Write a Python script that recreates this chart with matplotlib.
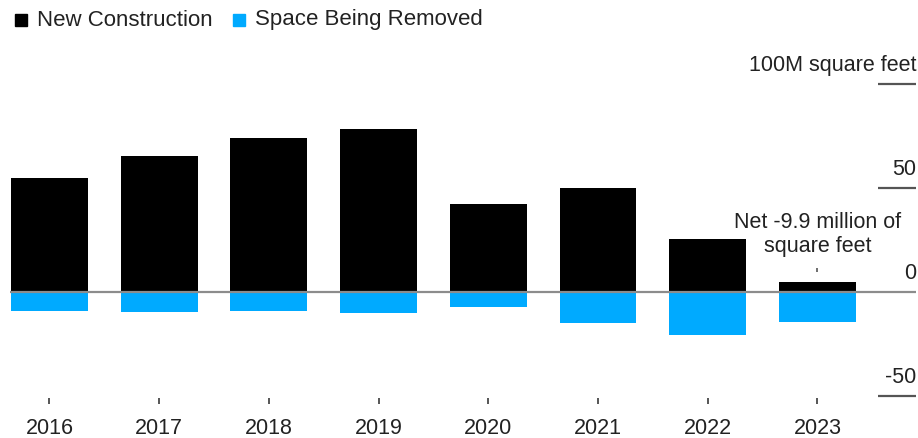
import numpy as np
import matplotlib
matplotlib.use('Agg')
import matplotlib.pyplot as plt
from matplotlib.patches import Rectangle

plt.rcParams['font.family'] = ['Liberation Sans', 'DejaVu Sans']

# office space, millions of square feet
years = ['2016', '2017', '2018', '2019', '2020', '2021', '2022', '2023']
new_construction = [55.0, 65.4, 74.2, 78.2, 42.3, 50.1, 25.3, 4.7]
space_removed = [-9.0, -9.6, -9.0, -9.9, -7.4, -14.7, -20.8, -14.6]
ytick_vals = [100, 50, 0, -50]
ytick_labels = ['100M square feet', '50', '0', '-50']
net_2023 = new_construction[-1] + space_removed[-1]

black = '#000000'
blue = '#00aaff'
txt = '#222222'
grey = '#8c8c8c'
fs = 15.5

fig = plt.figure(figsize=(9.18, 4.38), dpi=100)
ax = fig.add_axes([0, 0, 1, 1])
x = np.arange(len(years))
ax.set_xlim(-0.451, 7.917)
ax.set_ylim(-70.2, 140.4)
ax.axis('off')

ax.bar(x, new_construction, width=0.70, color=black, zorder=2)
ax.bar(x, space_removed, width=0.70, color=blue, zorder=2)

# zero line and right-hand gridline stubs
ax.hlines(0, -0.36, 7.90, color=grey, lw=1.6, zorder=3)
for v, lab in zip(ytick_vals, ytick_labels):
    if v != 0:
        ax.hlines(v, 7.553, 7.899, color='#555555', lw=1.6)
    ax.annotate(lab, (7.899, v), xytext=(0, 6), textcoords='offset points',
                ha='right', va='bottom', fontsize=fs, color=txt)

# year ticks and labels
ax.vlines(x, -51.2, -53.8, color='#555555', lw=1.4)
for xi, yr in zip(x, years):
    ax.text(xi, -65.4, yr, ha='center', va='center', fontsize=fs, color=txt)

# net annotation for last year
ax.text(x[-1], 27.5, 'Net %.1f million of\nsquare feet' % net_2023, ha='center',
        va='center', fontsize=fs, color=txt, linespacing=1.2)
ax.vlines(x[-1], 9.4, 11.4, color='#555555', lw=1.2)

# legend
W, H = 918, 438
for px, col, lab in [(15, black, 'New Construction'), (233, blue, 'Space Being Removed')]:
    fig.add_artist(Rectangle((px / W, 1 - 26 / H), 12 / W, 12 / H, color=col,
                             transform=fig.transFigure))
    fig.text((px + 22) / W, 1 - 20 / H, lab, ha='left', va='center', fontsize=16, color=txt)

fig.savefig('out.png', dpi=100)
